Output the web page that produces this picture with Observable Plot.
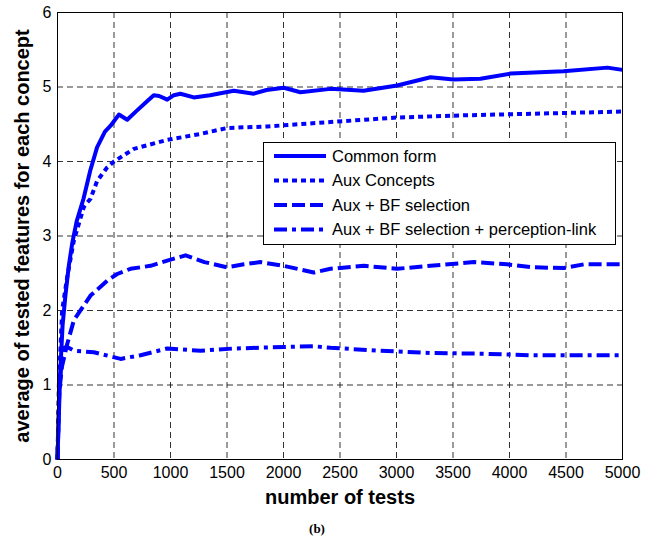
<!DOCTYPE html>
<html>
<head>
<meta charset="utf-8">
<script src="https://cdn.jsdelivr.net/npm/d3@7"></script>
<script src="https://cdn.jsdelivr.net/npm/@observablehq/plot@0.6"></script>
<style>
  body { margin: 0; background: #fff; }
  #wrap { position: relative; width: 657px; height: 541px; }
  #legend { position: absolute; box-sizing: border-box; background: #fff; border: 1px solid #000;
            font-family: "Liberation Sans", Arial, sans-serif; font-size: 16.5px; }
</style>
</head>
<body>
<div id="wrap"></div>
<script>
// ---- data ----
const seriesNames = ["Common form", "Aux Concepts", "Aux + BF selection", "Aux + BF selection + perception-link"];
const seriesDash = ["none", "5,4", "13,5", "13,5,4,5"];

const commonX = [0,10,25,45,70,100,130,170,230,290,350,420,470,543,617,700,800,852,900,971,1030,1088,1206,1350,1560,1737,1850,2003,2150,2416,2708,3006,3301,3504,3743,4009,4478,4867,5000];
const commonY = [0,0.5,1.2,1.8,2.2,2.6,2.9,3.2,3.5,3.88,4.19,4.4,4.48,4.63,4.56,4.68,4.82,4.89,4.88,4.83,4.89,4.91,4.86,4.89,4.95,4.91,4.96,4.99,4.93,4.975,4.95,5.02,5.13,5.10,5.11,5.18,5.21,5.26,5.23];

const auxX = [0,12,41,86,145,233,292,351,439,500,676,971,1265,1501,1855,2416,3006,3596,4186,5000];
const auxY = [0,1.0,2.0,2.45,2.94,3.39,3.5,3.74,3.92,4.0,4.17,4.29,4.37,4.45,4.47,4.53,4.59,4.62,4.64,4.67];

const bfX = [0,15,40,86,145,292,440,528,646,823,971,1133,1300,1501,1650,1796,2000,2268,2416,2711,3006,3301,3684,3979,4200,4481,4658,5000];
const bfY = [0,0.9,1.25,1.55,1.87,2.2,2.4,2.49,2.56,2.6,2.67,2.74,2.65,2.58,2.62,2.65,2.6,2.51,2.56,2.6,2.56,2.6,2.65,2.62,2.58,2.57,2.62,2.62];

const plX = [0,15,35,60,86,145,322,558,735,971,1265,1560,2003,2268,2416,2858,3301,3743,4186,5000];
const plY = [0,0.9,1.3,1.5,1.51,1.46,1.44,1.35,1.40,1.49,1.46,1.49,1.51,1.52,1.50,1.46,1.43,1.42,1.40,1.40];

const xTicks = [0,500,1000,1500,2000,2500,3000,3500,4000,4500,5000];
const yTicks = [0,1,2,3,4,5,6];

// ---- build ----
const allX = [commonX, auxX, bfX, plX];
const allY = [commonY, auxY, bfY, plY];
const rows = [];
seriesNames.forEach((name, i) => {
  allX[i].forEach((x, j) => rows.push({series: name, idx: i, x, y: allY[i][j]}));
});

const font = "'Liberation Sans', Arial, sans-serif";
const blue = "#0000ff";

const lineMarks = seriesNames.map((name, i) =>
  Plot.line(rows.filter(d => d.idx === i), {
    x: "x", y: "y", stroke: blue, strokeWidth: 4,
    strokeDasharray: seriesDash[i] === "none" ? undefined : seriesDash[i],
    strokeLinejoin: "round", strokeLinecap: "butt"
  })
);

const chart = Plot.plot({
  width: 657, height: 541,
  marginLeft: 57, marginRight: 35, marginTop: 12, marginBottom: 82,
  style: { fontFamily: font, background: "#fff" },
  x: { domain: [0, 5000], ticks: xTicks },
  y: { domain: [0, 6], ticks: yTicks },
  marks: [
    Plot.gridX(xTicks, { stroke: "#000", strokeOpacity: 0.8, strokeDasharray: "6,4" }),
    Plot.gridY(yTicks, { stroke: "#000", strokeOpacity: 0.8, strokeDasharray: "6,4" }),
    ...lineMarks,
    Plot.frame({ stroke: "#000", strokeWidth: 1 }),
    Plot.axisX(xTicks, { tickSize: 0, tickPadding: 7, fontSize: 16, fill: "#000", label: null, tickFormat: d3.format("d") }),
    Plot.axisY(yTicks, { tickSize: 0, tickPadding: 6, fontSize: 16, fill: "#000", label: null, tickFormat: d3.format("d") }),
    Plot.text(["number of tests"], { frameAnchor: "bottom", dy: 38, text: d => d, fontSize: 20, fontWeight: "bold", fill: "#000", textAnchor: "middle", lineAnchor: "middle" }),
    Plot.text(["average of tested features for each concept"], { frameAnchor: "left", dx: -35, rotate: -90, text: d => d, fontSize: 20, fontWeight: "bold", fill: "#000", textAnchor: "middle", lineAnchor: "middle" }),
    Plot.text(["(b)"], { frameAnchor: "bottom", dx: -23, dy: 69, text: d => d, fontSize: 13, fontWeight: "bold", fontFamily: "'Liberation Serif', serif", fill: "#000", textAnchor: "middle", lineAnchor: "middle" })
  ]
});

const wrap = document.getElementById("wrap");
wrap.appendChild(chart);

// ---- legend overlay ----
const leg = d3.select(wrap).append("div").attr("id", "legend")
  .style("left", "263px").style("top", "142px").style("width", "353px").style("height", "103px");
const lsvg = leg.append("svg").attr("width", 351).attr("height", 101);
seriesNames.forEach((name, i) => {
  const cy = 13 + i * 24.5;
  lsvg.append("line").attr("x1", 10).attr("x2", 62).attr("y1", cy).attr("y2", cy)
    .attr("stroke", blue).attr("stroke-width", 4)
    .attr("stroke-dasharray", seriesDash[i] === "none" ? null : seriesDash[i]);
  lsvg.append("text").attr("x", 68).attr("y", cy).attr("dy", "0.35em")
    .attr("font-family", font).attr("font-size", 16.5).text(name);
});
</script>
</body>
</html>
